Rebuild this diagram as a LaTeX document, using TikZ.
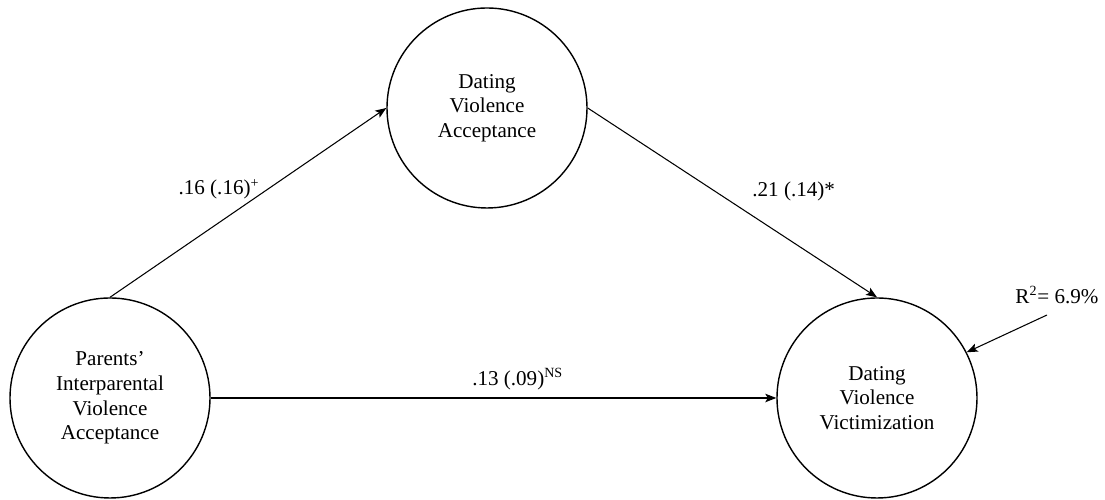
\documentclass[tikz,border=0pt]{standalone}
\usepackage{fontspec}
\setmainfont{Liberation Serif}
\usetikzlibrary{arrows.meta}

\begin{document}
\begin{tikzpicture}[node distance={15.34cm}, main/.style={circle, draw, line width=0.8pt, minimum size=4cm, inner sep=0pt, align=center, font=\fontsize{12}{14}\selectfont}, lbl/.style={font=\fontsize{12}{14}\selectfont}, ar/.style={-{Stealth[length=2.2mm, width=1.7mm, inset=0.5mm]}, line width=0.6pt}]
          \useasboundingbox (0,0) rectangle (22.1,10);
          \node[main] (piva) at (2.2,2.04) {Parents'\\Interparental\\Violence\\Acceptance};
          \node[main] (dva) [above of=piva, node distance=5.8cm, xshift=7.54cm] {Dating\\Violence\\Acceptance};
          \node[main] (dvv) [right of=piva] {Dating\\Violence\\Victimization};
          \node[lbl] (r2) at (21.14,4.1) {R\textsuperscript{2}= 6.9\%};
          \coordinate (err) at (20.94,3.7);
          
          \draw[ar] (piva.north) -- (dva.west) node[lbl] (a) [at start, xshift=2.18cm, yshift=2.16cm]{.16 (.16)\textsuperscript{+}};
          \draw[ar] (dva.east) -- (dvv.north) node[lbl] (b) [at start, xshift=4.12cm, yshift=-1.66cm]{.21 (.14)*};
          \draw[ar] (piva.east) -- (dvv.west) node[lbl] (c) [at start, xshift=6.14cm, yshift=0.38cm]{.13 (.09)\textsuperscript{NS}};
          \draw[ar] (err) -- (dvv.27);
        \end{tikzpicture}
\end{document}
